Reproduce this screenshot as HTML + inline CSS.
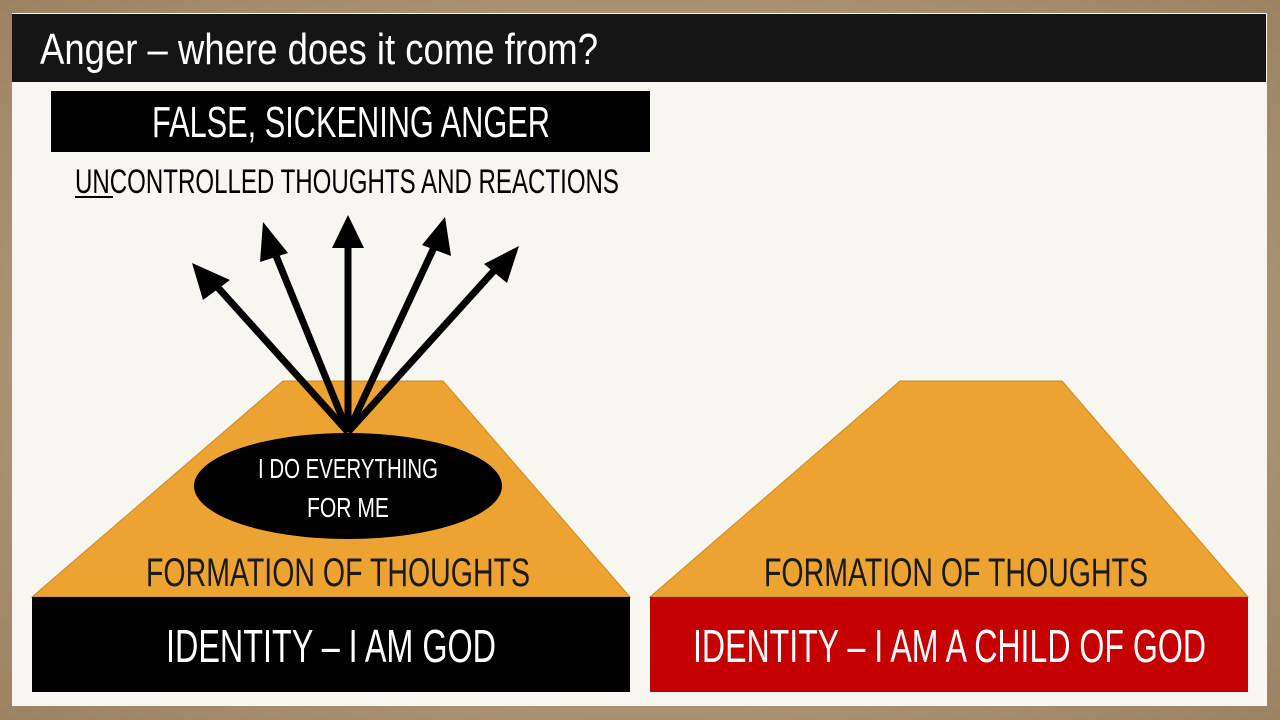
<!DOCTYPE html>
<html><head><style>
html,body{margin:0;padding:0;width:1280px;height:720px;overflow:hidden;background:#a58d6c;}
svg{display:block}
text{font-family:"Liberation Sans",sans-serif;}
</style></head><body>
<svg width="1280" height="720" viewBox="0 0 1280 720">
<defs>
<radialGradient id="bg" cx="50%" cy="50%" r="70%">
<stop offset="0" stop-color="#c9b497"/><stop offset="1" stop-color="#9b8362"/>
</radialGradient>
<marker id="ah" markerWidth="8" markerHeight="8" refX="4" refY="4" orient="auto" markerUnits="userSpaceOnUse" viewBox="0 0 8 8">
</marker>
</defs>
<rect width="1280" height="720" fill="url(#bg)"/>
<rect x="12" y="13" width="1255" height="693" fill="#f8f6f1"/>
<rect x="12" y="14" width="1254" height="68" fill="#151515"/>
<text x="40" y="64" font-size="44" fill="#fff" textLength="558" lengthAdjust="spacingAndGlyphs">Anger – where does it come from?</text>

<rect x="51" y="91" width="599" height="61" fill="#000"/>
<text x="152" y="137" font-size="44" fill="#fff" textLength="398" lengthAdjust="spacingAndGlyphs">FALSE, SICKENING ANGER</text>
<text x="75" y="193" font-size="34" fill="#000" textLength="544" lengthAdjust="spacingAndGlyphs">UNCONTROLLED THOUGHTS AND REACTIONS</text>
<rect x="75" y="196" width="38" height="2" fill="#000"/>

<polygon points="283,381 443,381 630,597 32,597" fill="#eda331" stroke="#c98a20" stroke-width="1"/>
<polygon points="900,381 1062,381 1248,597 650,597" fill="#eda331" stroke="#c98a20" stroke-width="1"/>

<g stroke="#000" stroke-width="7" fill="none">
<line x1="348" y1="432" x2="212" y2="281"/>
<line x1="348" y1="432" x2="272" y2="246"/>
<line x1="348" y1="432" x2="348" y2="240"/>
<line x1="348" y1="432" x2="437" y2="241"/>
<line x1="348" y1="432" x2="500" y2="264"/>
</g>
<g fill="#000">
<polygon points="192,263 230,280 203,300"/>
<polygon points="263,222 288,253 260,262"/>
<polygon points="348,215 364,248 332,248"/>
<polygon points="445,217 451,256 422,245"/>
<polygon points="519,246 507,283 484,264"/>
</g>

<ellipse cx="348" cy="486" rx="154" ry="53" fill="#000"/>
<text x="348" y="478" font-size="28" fill="#fff" text-anchor="middle" textLength="180" lengthAdjust="spacingAndGlyphs">I DO EVERYTHING</text>
<text x="348" y="517" font-size="28" fill="#fff" text-anchor="middle" textLength="82" lengthAdjust="spacingAndGlyphs">FOR ME</text>

<text x="146" y="586" font-size="40" fill="#1a1a1a" textLength="384" lengthAdjust="spacingAndGlyphs">FORMATION OF THOUGHTS</text>
<text x="764" y="586" font-size="40" fill="#1a1a1a" textLength="384" lengthAdjust="spacingAndGlyphs">FORMATION OF THOUGHTS</text>

<rect x="32" y="597" width="598" height="95" fill="#000"/>
<rect x="650" y="597" width="598" height="95" fill="#c50000"/>
<text x="166" y="662" font-size="46" fill="#fff" textLength="330" lengthAdjust="spacingAndGlyphs">IDENTITY – I AM GOD</text>
<text x="693" y="662" font-size="46" fill="#fff" textLength="513" lengthAdjust="spacingAndGlyphs">IDENTITY – I AM A CHILD OF GOD</text>
</svg>
</body></html>
